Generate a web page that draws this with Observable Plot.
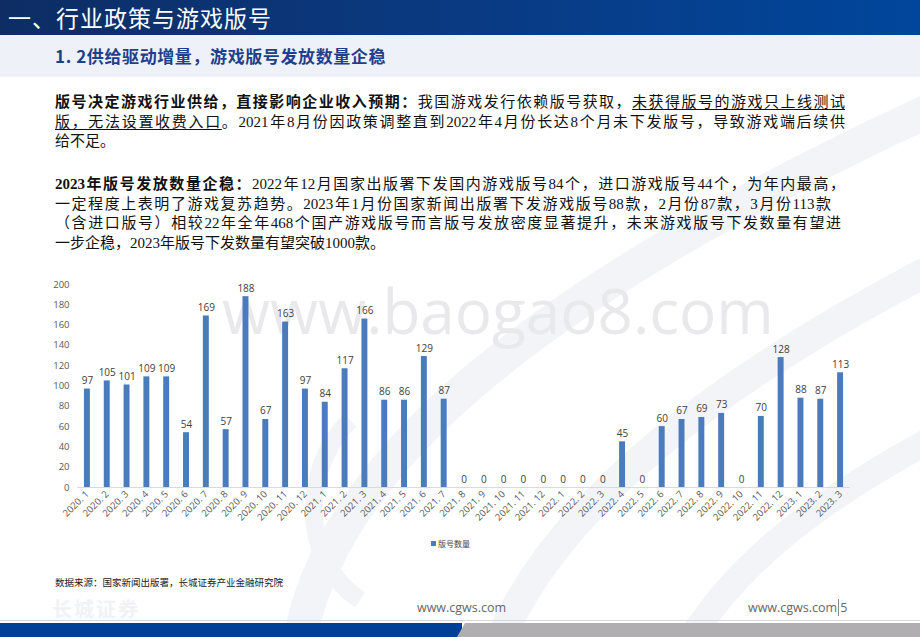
<!DOCTYPE html>
<html>
<head>
<meta charset="utf-8">
<script src="https://cdn.jsdelivr.net/npm/d3@7"></script>
<script src="https://cdn.jsdelivr.net/npm/@observablehq/plot@0.6"></script>
<style>
  html, body { margin: 0; padding: 0; }
  body { width: 920px; height: 637px; position: relative; overflow: hidden; background: #fff; font-family: "Noto Sans CJK SC", sans-serif; }
  .deco { position: absolute; left: 0; top: 0; }
  .hdr { position: absolute; left: 0; top: 0; width: 920px; height: 35px; background: linear-gradient(90deg, #0d2d64 0%, #0a3a82 50%, #00469c 100%); }
  .hdr span { position: absolute; left: 8px; top: 2px; color: #fff; font-size: 23px; letter-spacing: 1px; line-height: 30px; }
  .band { position: absolute; left: 0; top: 35px; width: 920px; height: 42px; background: #eef2f8; }
  .band span { position: absolute; left: 55px; top: 9px; color: #1d3f8e; font-weight: bold; font-size: 17px; letter-spacing: 0.6px; line-height: 24px; }
  .txt { position: absolute; left: 55px; width: 790px; font-family: "Liberation Serif", "Noto Sans CJK SC", serif; font-size: 15px; line-height: 19.6px; color: #111; }
  .txt div { white-space: nowrap; }
  .txt .j { text-align: justify; text-align-last: justify; white-space: normal; }
  .txt b { font-weight: bold; }
  .txt u { text-decoration: underline; text-underline-offset: 2px; text-decoration-thickness: 1px; }
  #chart { position: absolute; left: 40px; top: 270px; }
  .wm { position: absolute; left: 222px; top: 268px; font-family: "Open Sans", sans-serif; font-size: 62px; color: #e9e9ec; white-space: nowrap; }
  .legend { position: absolute; left: 431px; top: 538px; font-size: 8px; color: #444; line-height: 12px; white-space: nowrap; }
  .legend i { display: inline-block; width: 5px; height: 5px; background: #4a7bbd; margin-right: 2px; vertical-align: 1px; }
  .src { position: absolute; left: 55px; top: 576px; font-size: 9.5px; color: #222; white-space: nowrap; line-height: 12px; }
  .logo { position: absolute; left: 52px; top: 594px; font-size: 20px; color: #f0f2f6; font-weight: bold; white-space: nowrap; letter-spacing: 2px; }
  .f1 { position: absolute; left: 417px; top: 599px; font-family: "Open Sans", sans-serif; font-size: 12.5px; color: #666; white-space: nowrap; line-height: 18px; }
  .f2 { position: absolute; left: 748px; top: 599px; font-family: "Open Sans", sans-serif; font-size: 12.5px; color: #666; white-space: nowrap; line-height: 18px; }
  .f2 span { border-left: 1px solid #888; padding-left: 1px; margin-left: 1px; }
  .bar1 { position: absolute; left: 0; top: 623px; width: 462px; height: 14px; background: #004096; }
  .bar2 { position: absolute; left: 457px; top: 623px; width: 463px; height: 14px; background: #b1aeb1; clip-path: polygon(8px 0, 100% 0, 100% 100%, 0 100%); }
  .line { position: absolute; left: 0; top: 620px; width: 920px; height: 1px; background: #d8d8dc; }
</style>
</head>
<body>
<svg class="deco" width="920" height="637">
  <g fill="none" stroke="#f2f4f8">
    <path d="M300,640 C330,470 520,300 930,110" stroke-width="34"/>
    <path d="M500,640 C560,500 720,380 930,270" stroke-width="30"/>
    <path d="M690,640 C740,560 820,500 930,440" stroke-width="26"/>
    <path d="M360,600 C300,560 300,470 350,420" stroke-width="18"/>
  </g>
</svg>
<div class="hdr"><span>一、行业政策与游戏版号</span></div>
<div class="band"><span>1. 2供给驱动增量，游戏版号发放数量企稳</span></div>

<div class="txt" style="top:93px">
  <div class="j"><b>版号决定游戏行业供给，直接影响企业收入预期：</b>我国游戏发行依赖版号获取，<u>未获得版号的游戏只上线测试</u></div>
  <div class="j"><u>版，无法设置收费入口</u>。2021年8月份因政策调整直到2022年4月份长达8个月未下发版号，导致游戏端后续供</div>
  <div>给不足。</div>
</div>
<div class="txt" style="top:175px">
  <div class="j"><b>2023年版号发放数量企稳：</b>2022年12月国家出版署下发国内游戏版号84个，进口游戏版号44个，为年内最高，</div>
  <div class="j" style="width:776px">一定程度上表明了游戏复苏趋势。2023年1月份国家新闻出版署下发游戏版号88款，2月份87款，3月份113款</div>
  <div class="j" style="width:786px">（含进口版号）相较22年全年468个国产游戏版号而言版号发放密度显著提升，未来游戏版号下发数量有望进</div>
  <div>一步企稳，2023年版号下发数量有望突破1000款。</div>
</div>

<div class="wm">www.baogao8.com</div>
<div id="chart"></div>
<div class="legend"><i></i>版号数量</div>
<div class="src">数据来源：国家新闻出版署，长城证券产业金融研究院</div>
<div class="logo">长城证券</div>
<div class="f1">www.cgws.com</div>
<div class="f2">www.cgws.com<span>5</span></div>
<div class="line"></div>
<div class="bar1"></div>
<div class="bar2"></div>

<script>
const months = [
  "2020. 1","2020. 2","2020. 3","2020. 4","2020. 5","2020. 6","2020. 7","2020. 8","2020. 9","2020. 10","2020. 11","2020. 12",
  "2021. 1","2021. 2","2021. 3","2021. 4","2021. 5","2021. 6","2021. 7","2021. 8","2021. 9","2021. 10","2021. 11","2021. 12",
  "2022. 1","2022. 2","2022. 3","2022. 4","2022. 5","2022. 6","2022. 7","2022. 8","2022. 9","2022. 10","2022. 11","2022. 12",
  "2023. 1","2023. 2","2023. 3"
];
const counts = [
  97,105,101,109,109,54,169,57,188,67,163,97,
  84,117,166,86,86,129,87,0,0,0,0,0,
  0,0,0,45,0,60,67,69,73,0,70,128,
  88,87,113
];
const yTicks = [0,20,40,60,80,100,120,140,160,180,200];
const seriesName = "版号数量";

const data = months.map((m, i) => ({month: m, count: counts[i], series: seriesName}));

const chart = Plot.plot({
  width: 830,
  height: 270,
  marginLeft: 37,
  marginRight: 20,
  marginTop: 14,
  marginBottom: 53,
  style: {fontFamily: "'Open Sans', 'Noto Sans CJK SC', sans-serif", fontSize: "9.5px", color: "#595959", background: "transparent"},
  x: {domain: months, paddingInner: 0.7, paddingOuter: 0.35, label: null, tickRotate: -45, tickSize: 0, tickPadding: 5},
  y: {domain: [0, 200], ticks: yTicks, label: null, tickSize: 0, tickPadding: 8},
  marks: [
    Plot.barY(data, {x: "month", y: "count", fill: "#4a7bbd"}),
    Plot.ruleY([0], {stroke: "#d9d9d9", strokeWidth: 1}),
    Plot.text(data, {x: "month", y: "count", text: d => String(d.count), lineAnchor: "bottom", dy: -5, fill: "#404040", fontSize: 10})
  ]
});
document.getElementById("chart").appendChild(chart);
</script>
</body>
</html>
